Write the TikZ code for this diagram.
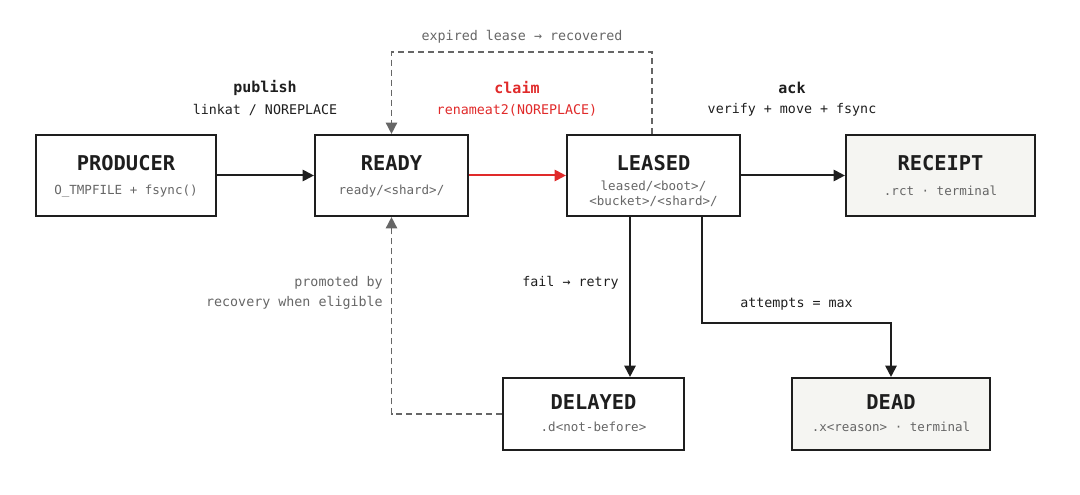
\documentclass[tikz,border=0pt]{standalone}
\usepackage{fontspec}
\setmonofont{DejaVu Sans Mono}
\usetikzlibrary{arrows.meta,positioning}
\definecolor{inkc}{HTML}{1E1E1E}
\definecolor{mutedc}{HTML}{666666}
\definecolor{claimc}{HTML}{E02A2A}
\definecolor{termc}{HTML}{F5F5F2}

\begin{document}
\begin{tikzpicture}[x=0.75pt,y=-0.75pt,
    state/.style={draw=inkc, line width=1.6pt, fill=white, inner sep=0pt,
      minimum height=60.75pt},
    terminal/.style={state, fill=termc},
    title/.style={font=\ttfamily\fontsize{15.3}{18}\selectfont\bfseries, text=inkc, inner sep=0pt},
    sub/.style={font=\ttfamily\fontsize{9.4}{11.5}\selectfont, text=mutedc, inner sep=0pt},
    flow/.style={draw=inkc, line width=1.5pt, -{Triangle[length=8.5pt,width=8.5pt]}},
    back/.style={draw=mutedc, line width=1.2pt, dash pattern=on 4.5pt off 3pt,
      -{Triangle[length=8.5pt,width=8.5pt]}},
    verb/.style={font=\ttfamily\fontsize{11.25}{13}\selectfont\bfseries, text=inkc, inner sep=0pt},
    note/.style={font=\ttfamily\fontsize{10}{12}\selectfont, text=inkc, inner sep=0pt},
    aside/.style={note, text=mutedc}]
  \useasboundingbox (0,0) rectangle (1080,495);

  % states
  \node[state, minimum width=135pt] (prod) at (126,175.5) {};
  \node[title] (prodT) at (126,163) {PRODUCER};
  \node[sub] (prodS) at (126,191) {O\_TMPFILE + fsync()};

  \node[state, minimum width=114.75pt] (ready) at (391.5,175.5) {};
  \node[title] (readyT) at (391.5,163) {READY};
  \node[sub] (readyS) at (391.5,191) {ready/<shard>/};

  \node[state, minimum width=129.75pt] (leased) at (653.5,175.5) {};
  \node[title] (leasedT) at (653.5,163) {LEASED};
  \node[sub] (leasedS) at (653.5,186) {leased/<boot>/};
  \node[sub] (leasedS2) at (653.5,201) {<bucket>/<shard>/};

  \node[terminal, minimum width=141.75pt] (rcpt) at (940.5,175.5) {};
  \node[title] (rcptT) at (940.5,163) {RECEIPT};
  \node[sub] (rcptS) at (940.5,191) {.rct · terminal};

  \node[state, minimum width=135.75pt, minimum height=54pt] (delay) at (593.5,414) {};
  \node[title] (delayT) at (593.5,402) {DELAYED};
  \node[sub] (delayS) at (593.5,427) {.d<not-before>};

  \node[terminal, minimum width=148.5pt, minimum height=54pt] (dead) at (891,414) {};
  \node[title] (deadT) at (891,402) {DEAD};
  \node[sub] (deadS) at (891,427) {.x<reason> · terminal};

  % main path
  \draw[flow] (prod) -- (ready);
  \draw[flow, draw=claimc, fill=claimc] (ready) -- (leased);
  \draw[flow] (leased) -- (rcpt);

  % failures
  \coordinate (failx) at (630,216);
  \draw[flow] (failx) -- (failx |- delay.north);
  \coordinate (deadturn) at (702,323);
  \draw[flow] (leased.south -| deadturn) -- (deadturn) -| (dead.north);

  % recovery
  \coordinate (exptop) at (652,52);
  \draw[back] (leased.north -| exptop) -- (exptop) -| (ready.north);
  \draw[back] (delay.west) -| (ready.south);

  % labels
  \node[verb] (publishlbl) at (265,88) {publish};
  \node[note] (publishsub) at (265,110) {linkat / NOREPLACE};
  \node[verb, text=claimc] (claimlbl) at (517,88) {claim};
  \node[note, text=claimc] (claimsub) at (517,110) {renameat2(NOREPLACE)};
  \node[verb] (acklbl) at (792,88) {ack};
  \node[note] (acksub) at (792,110) {verify + move + fsync};
  \node[aside] (explbl) at (522,37) {expired lease → recovered};
  \node[note, anchor=east] (faillbl) at (619,283) {fail → retry};
  \node[note] (maxlbl) at (796.5,304) {attempts = max};
  \node[aside, anchor=east] (promlbl) at (383,283) {promoted by};
  \node[aside, anchor=east] (promsub) at (383,303) {recovery when eligible};
\end{tikzpicture}
\end{document}
